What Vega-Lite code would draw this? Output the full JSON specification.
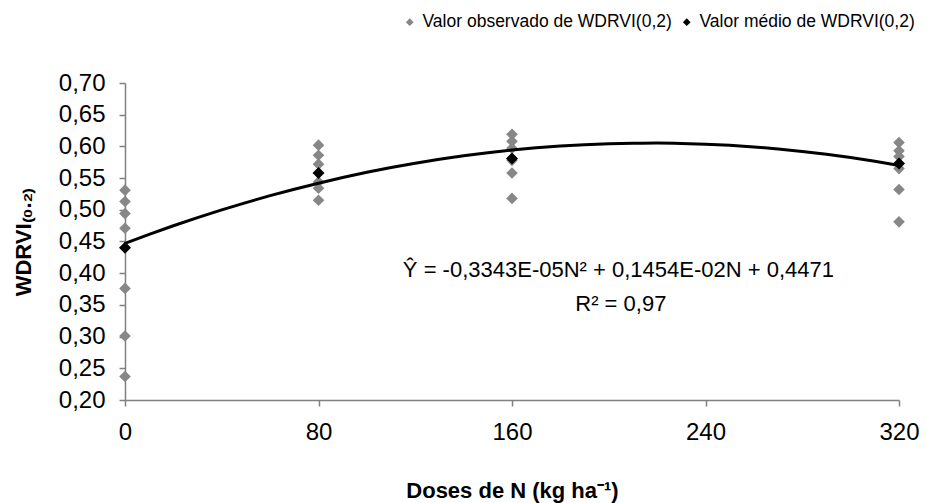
{
  "$schema": "https://vega.github.io/schema/vega-lite/v6.json",
  "width": 774,
  "height": 317,
  "autosize": {"type": "none"},
  "padding": {"left": 125, "top": 83, "right": 28, "bottom": 103},
  "background": "white",
  "config": {
    "locale": {"number": {"decimal": ",", "thousands": ".", "grouping": [3], "currency": ["", ""]}},
    "font": "Liberation Sans",
    "view": {"stroke": null},
    "axis": {
      "grid": false,
      "domainColor": "#808080",
      "tickColor": "#808080",
      "domainWidth": 1.5,
      "tickWidth": 1.5,
      "labelFont": "Liberation Sans",
      "labelFontSize": 24,
      "labelColor": "#000000",
      "titleFont": "Liberation Sans",
      "titleFontSize": 22,
      "titleFontWeight": "bold",
      "titleColor": "#000000"
    }
  },
  "datasets": {
    "observados": [
      {"dose": 0, "wdrvi": 0.531, "serie": "Valor observado de WDRVI(0,2)"},
      {"dose": 0, "wdrvi": 0.513, "serie": "Valor observado de WDRVI(0,2)"},
      {"dose": 0, "wdrvi": 0.494, "serie": "Valor observado de WDRVI(0,2)"},
      {"dose": 0, "wdrvi": 0.471, "serie": "Valor observado de WDRVI(0,2)"},
      {"dose": 0, "wdrvi": 0.376, "serie": "Valor observado de WDRVI(0,2)"},
      {"dose": 0, "wdrvi": 0.301, "serie": "Valor observado de WDRVI(0,2)"},
      {"dose": 0, "wdrvi": 0.237, "serie": "Valor observado de WDRVI(0,2)"},
      {"dose": 80, "wdrvi": 0.602, "serie": "Valor observado de WDRVI(0,2)"},
      {"dose": 80, "wdrvi": 0.586, "serie": "Valor observado de WDRVI(0,2)"},
      {"dose": 80, "wdrvi": 0.572, "serie": "Valor observado de WDRVI(0,2)"},
      {"dose": 80, "wdrvi": 0.544, "serie": "Valor observado de WDRVI(0,2)"},
      {"dose": 80, "wdrvi": 0.534, "serie": "Valor observado de WDRVI(0,2)"},
      {"dose": 80, "wdrvi": 0.515, "serie": "Valor observado de WDRVI(0,2)"},
      {"dose": 160, "wdrvi": 0.619, "serie": "Valor observado de WDRVI(0,2)"},
      {"dose": 160, "wdrvi": 0.608, "serie": "Valor observado de WDRVI(0,2)"},
      {"dose": 160, "wdrvi": 0.597, "serie": "Valor observado de WDRVI(0,2)"},
      {"dose": 160, "wdrvi": 0.578, "serie": "Valor observado de WDRVI(0,2)"},
      {"dose": 160, "wdrvi": 0.558, "serie": "Valor observado de WDRVI(0,2)"},
      {"dose": 160, "wdrvi": 0.518, "serie": "Valor observado de WDRVI(0,2)"},
      {"dose": 320, "wdrvi": 0.606, "serie": "Valor observado de WDRVI(0,2)"},
      {"dose": 320, "wdrvi": 0.593, "serie": "Valor observado de WDRVI(0,2)"},
      {"dose": 320, "wdrvi": 0.584, "serie": "Valor observado de WDRVI(0,2)"},
      {"dose": 320, "wdrvi": 0.565, "serie": "Valor observado de WDRVI(0,2)"},
      {"dose": 320, "wdrvi": 0.532, "serie": "Valor observado de WDRVI(0,2)"},
      {"dose": 320, "wdrvi": 0.481, "serie": "Valor observado de WDRVI(0,2)"}
    ],
    "medios": [
      {"dose": 0, "wdrvi": 0.440, "serie": "Valor médio de WDRVI(0,2)"},
      {"dose": 80, "wdrvi": 0.558, "serie": "Valor médio de WDRVI(0,2)"},
      {"dose": 160, "wdrvi": 0.581, "serie": "Valor médio de WDRVI(0,2)"},
      {"dose": 320, "wdrvi": 0.573, "serie": "Valor médio de WDRVI(0,2)"}
    ],
    "ajuste": [
      {"dose": 0, "wdrvi": 0.4471},
      {"dose": 10, "wdrvi": 0.4613},
      {"dose": 20, "wdrvi": 0.4748},
      {"dose": 30, "wdrvi": 0.4877},
      {"dose": 40, "wdrvi": 0.4999},
      {"dose": 50, "wdrvi": 0.5114},
      {"dose": 60, "wdrvi": 0.5223},
      {"dose": 70, "wdrvi": 0.5325},
      {"dose": 80, "wdrvi": 0.5420},
      {"dose": 90, "wdrvi": 0.5509},
      {"dose": 100, "wdrvi": 0.5591},
      {"dose": 110, "wdrvi": 0.5666},
      {"dose": 120, "wdrvi": 0.5734},
      {"dose": 130, "wdrvi": 0.5796},
      {"dose": 140, "wdrvi": 0.5851},
      {"dose": 150, "wdrvi": 0.5900},
      {"dose": 160, "wdrvi": 0.5942},
      {"dose": 170, "wdrvi": 0.5977},
      {"dose": 180, "wdrvi": 0.6005},
      {"dose": 190, "wdrvi": 0.6027},
      {"dose": 200, "wdrvi": 0.6042},
      {"dose": 210, "wdrvi": 0.6050},
      {"dose": 220, "wdrvi": 0.6052},
      {"dose": 230, "wdrvi": 0.6047},
      {"dose": 240, "wdrvi": 0.6035},
      {"dose": 250, "wdrvi": 0.6017},
      {"dose": 260, "wdrvi": 0.5992},
      {"dose": 270, "wdrvi": 0.5960},
      {"dose": 280, "wdrvi": 0.5921},
      {"dose": 290, "wdrvi": 0.5876},
      {"dose": 300, "wdrvi": 0.5824},
      {"dose": 310, "wdrvi": 0.5766},
      {"dose": 320, "wdrvi": 0.5701}
    ],
    "equacao": [
      {"dose": 204, "wdrvi": 0.405, "texto": "Ŷ = -0,3343E-05N² + 0,1454E-02N + 0,4471"},
      {"dose": 205, "wdrvi": 0.352, "texto": "R² = 0,97"}
    ]
  },
  "encoding": {
    "x": {
      "field": "dose",
      "type": "quantitative",
      "scale": {"domain": [0, 320], "nice": false, "zero": false},
      "axis": {
        "values": [0, 80, 160, 240, 320],
        "title": "Doses de N (kg ha⁻¹)",
        "titlePadding": 36,
        "labelPadding": 14,
        "tickSize": 6,
        "labelFlush": false
      }
    },
    "y": {
      "field": "wdrvi",
      "type": "quantitative",
      "scale": {"domain": [0.2, 0.7], "nice": false, "zero": false},
      "axis": {
        "values": [0.2, 0.25, 0.3, 0.35, 0.4, 0.45, 0.5, 0.55, 0.6, 0.65, 0.7],
        "format": ".2f",
        "title": "WDRVI₍₀.₂₎",
        "titlePadding": 23,
        "labelPadding": 14,
        "tickSize": 6
      }
    }
  },
  "layer": [
    {
      "data": {"name": "observados"},
      "mark": {"type": "point", "shape": "diamond", "filled": true, "size": 135, "opacity": 1},
      "encoding": {
        "color": {
          "field": "serie",
          "type": "nominal",
          "scale": {
            "domain": ["Valor observado de WDRVI(0,2)", "Valor médio de WDRVI(0,2)"],
            "range": ["#878787", "#000000"]
          },
          "legend": {
            "title": null,
            "orient": "none",
            "direction": "horizontal",
            "legendX": 276,
            "legendY": -70,
            "labelFontSize": 17.5,
            "labelFont": "Liberation Sans",
            "labelColor": "#000000",
            "symbolSize": 60,
            "symbolType": "diamond",
            "symbolOpacity": 1,
            "columnPadding": 6,
            "labelOffset": 4,
            "labelLimit": 400
          }
        }
      }
    },
    {
      "data": {"name": "ajuste"},
      "mark": {"type": "line", "color": "#000000", "strokeWidth": 3, "interpolate": "monotone"},
      "encoding": {}
    },
    {
      "data": {"name": "medios"},
      "mark": {"type": "point", "shape": "diamond", "filled": true, "size": 145, "opacity": 1},
      "encoding": {
        "color": {"field": "serie", "type": "nominal"}
      }
    },
    {
      "data": {"name": "equacao"},
      "mark": {"type": "text", "fontSize": 22, "font": "Liberation Sans", "color": "#000000", "align": "center", "baseline": "middle"},
      "encoding": {"text": {"field": "texto"}}
    }
  ]
}
